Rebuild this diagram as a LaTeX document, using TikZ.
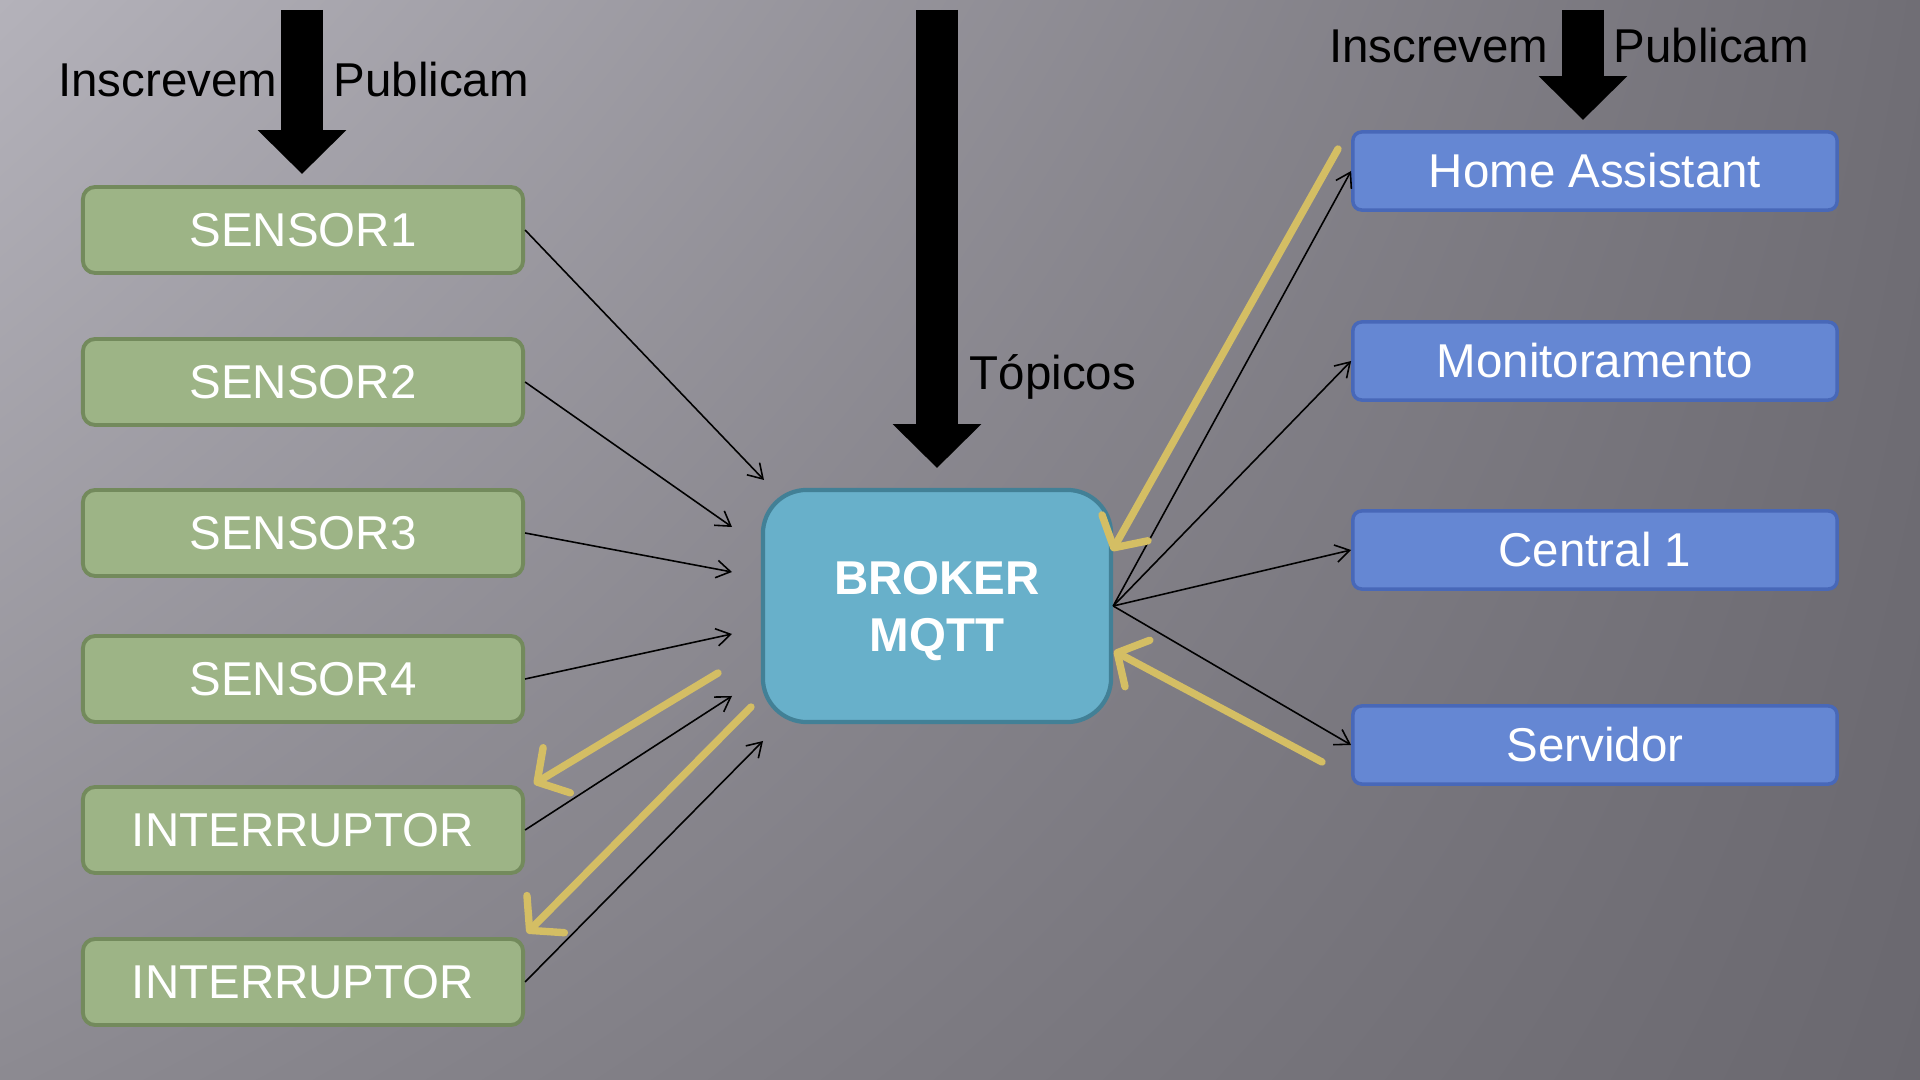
\documentclass[tikz,border=0pt]{standalone}
\usepackage{fontspec}
\setmainfont{Liberation Sans}
\usetikzlibrary{arrows.meta, positioning, calc, shadings}

\definecolor{fundoA}{RGB}{180,178,186}
\definecolor{fundoB}{RGB}{112,110,117}
\definecolor{fundoC}{RGB}{140,138,145}
\definecolor{fundoD}{RGB}{106,104,111}
\definecolor{verdecx}{RGB}{157,180,134}
\definecolor{verdeborda}{RGB}{115,138,92}
\definecolor{azulcx}{RGB}{101,135,211}
\definecolor{azulborda}{RGB}{72,104,184}
\definecolor{brokercx}{RGB}{104,176,202}
\definecolor{brokerborda}{RGB}{66,128,150}
\definecolor{amarelo}{RGB}{212,190,100}

\begin{document}
\begin{tikzpicture}[x=0.01cm, y=-0.01cm,
        disp/.style={rectangle, rounded corners=3.5pt, draw=verdeborda, line width=1.1pt, fill=verdecx, minimum width=4.4cm, minimum height=0.86cm, text=white, font=\fontsize{13.5}{16}\selectfont},
        cli/.style={rectangle, rounded corners=2.5pt, draw=azulborda, line width=1pt, fill=azulcx, minimum width=4.84cm, minimum height=0.78cm, text=white, font=\fontsize{13.5}{16}\selectfont},
        broker/.style={rectangle, rounded corners=12.5pt, draw=brokerborda, line width=1.2pt, fill=brokercx, minimum width=3.48cm, minimum height=2.32cm, align=center, text depth=0pt, text=white, font=\bfseries\fontsize{13.5}{16.2}\selectfont},
        rotulo/.style={inner sep=0pt, font=\fontsize{13.5}{16}\selectfont},
        seta/.style={->, line width=0.45pt, >={Straight Barb[length=4pt, width=5pt]}},
        retorno/.style={->, line width=2.1pt, amarelo, line cap=round, >={Straight Barb[round, length=6.5pt, width=15pt]}},
        grossa/.style={line width=12.2pt, -{Triangle[length=12.5pt, width=24.5pt]}}]

        % Fundo
        \useasboundingbox (0,0) rectangle (1920,1080);
        \shade[upper left=fundoA, upper right=fundoB, lower left=fundoC, lower right=fundoD] (0,0) rectangle (1920,1080);

        % Dispositivos
        \node[disp] (s1) at (303,230) {SENSOR1};
        \node[disp] (s2) at (303,382) {SENSOR2};
        \node[disp] (s3) at (303,533) {SENSOR3};
        \node[disp] (s4) at (303,679) {SENSOR4};
        \node[disp] (s5) at (303,830) {INTERRUPTOR};
        \node[disp] (s6) at (303,982) {INTERRUPTOR};

        % Broker
        \node[broker] (broker) at (937,606) {BROKER\\MQTT};

        % Clientes
        \node[cli] (ha) at (1595,171) {Home Assistant};
        \node[cli] (mon) at (1595,361) {Monitoramento};
        \node[cli] (cen) at (1595,550) {Central 1};
        \node[cli] (ser) at (1595,745) {Servidor};

        % Rotulos
        \node[rotulo, anchor=base east] (insc1) at (278,97) {Inscrevem};
        \node[rotulo, anchor=base west] (pub1) at (333,97) {Publicam};
        \node[rotulo, anchor=base east] (insc2) at (1549,63) {Inscrevem};
        \node[rotulo, anchor=base west] (pub2) at (1613,63) {Publicam};
        \node[rotulo, anchor=base west] (top) at (969,390) {Tópicos};

        % Setas grossas
        \coordinate (g1i) at (302,10);  \coordinate (g1f) at (302,174);
        \coordinate (g2i) at (937,10);  \coordinate (g2f) at (937,468);
        \coordinate (g3i) at (1583,10); \coordinate (g3f) at (1583,120);
        \draw[grossa] (g1i) -- (g1f);
        \draw[grossa] (g2i) -- (g2f);
        \draw[grossa] (g3i) -- (g3f);

        % Publicacoes dos dispositivos
        \coordinate (e1) at (764,480);
        \coordinate (e2) at (732,527);
        \coordinate (e3) at (732,572);
        \coordinate (e4) at (732,634);
        \coordinate (e5) at (732,696);
        \coordinate (e6) at (763,741);
        \foreach \i in {1,...,6}
            \draw[seta] (s\i.east) -- (e\i);

        % Broker para clientes
        \foreach \c in {ha,mon,cen,ser}
            \draw[seta] (broker.east) -- (\c.west);

        % Retornos
        \coordinate (a1) at (1338,149); \coordinate (a1f) at (1112,551);
        \coordinate (a2) at (1322,762); \coordinate (a2f) at (1114,651);
        \coordinate (a3) at (718,673);  \coordinate (a3f) at (534,784);
        \coordinate (a4) at (751,707);  \coordinate (a4f) at (527,933);
        \draw[retorno] (a1) -- (a1f);
        \draw[retorno] (a2) -- (a2f);
        \draw[retorno] (a3) -- (a3f);
        \draw[retorno] (a4) -- (a4f);
    \end{tikzpicture}
\end{document}
